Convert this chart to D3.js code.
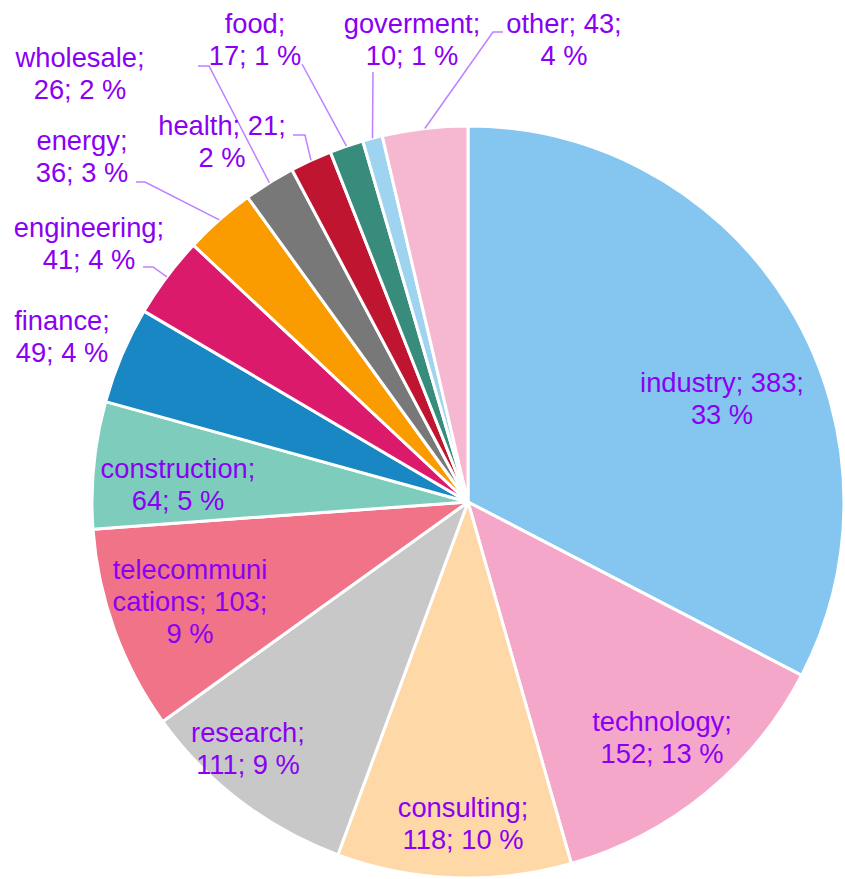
<!DOCTYPE html>
<html>
<head>
<meta charset="utf-8">
<script src="https://cdn.jsdelivr.net/npm/d3@7"></script>
<style>
  html, body { margin: 0; padding: 0; background: #fff; }
  svg { display: block; }
  .lbl { font-family: "Liberation Sans", Arial, sans-serif; font-size: 27.3px; fill: #8a00f2; }
</style>
</head>
<body>
<div id="chart"></div>
<script>
const width = 845;
const height = 879;

// data, clockwise from 12 o'clock
const categories = ["industry", "technology", "consulting", "research", "telecommunications",
  "construction", "finance", "engineering", "energy", "wholesale", "health", "food",
  "goverment", "other"];
const values = [383, 152, 118, 111, 103, 64, 49, 41, 36, 26, 21, 17, 10, 43];
// percentages as printed on the labels
const percents = [33, 13, 10, 9, 9, 5, 4, 4, 3, 2, 2, 1, 1, 4];
const colors = ["#84c6ef", "#f4a7c9", "#fed8a6", "#c8c8c8", "#f07387", "#7ecdbc", "#1a87c5",
  "#dc1a6c", "#fa9b00", "#787878", "#bf1530", "#378c7b", "#9fd4f1", "#f6b7d1"];

// label layout: x centre, first baseline, where the line breaks, optional leader (elbow, end)
const labelLayout = {
  industry:           { x: 722, y: 392, wrap: "value" },
  technology:         { x: 662, y: 731, wrap: "name" },
  consulting:         { x: 463, y: 817, wrap: "name" },
  research:           { x: 248, y: 742, wrap: "name" },
  telecommunications: { x: 190, y: 579, wrap: "split" },
  construction:       { x: 178, y: 478, wrap: "name" },
  finance:            { x: 62,  y: 330, wrap: "name" },
  engineering:        { x: 89,  y: 237, wrap: "name", elbow: [153, 267], end: [143, 267] },
  energy:             { x: 82,  y: 150, wrap: "name", elbow: [145, 182], end: [136, 182] },
  wholesale:          { x: 80,  y: 67,  wrap: "name", elbow: [209, 66],  end: [198, 66] },
  health:             { x: 222, y: 135, wrap: "value", elbow: [305, 135], end: [293, 135] },
  food:               { x: 255, y: 33,  wrap: "name", elbow: [302, 64],  end: [302, 64] },
  goverment:          { x: 412, y: 33,  wrap: "name", elbow: [373, 72],  end: [373, 72] },
  other:              { x: 564, y: 33,  wrap: "value", elbow: [493, 32], end: [503, 32] }
};

const cx = 468, cy = 502, radius = 376;
const lineHeight = 32;

const data = categories.map((c, i) => ({ name: c, value: values[i], pct: percents[i], color: colors[i] }));

const svg = d3.select("#chart")
  .append("svg")
  .attr("width", width)
  .attr("height", height);

const g = svg.append("g")
  .attr("transform", `translate(${cx}, ${cy})`);

const pie = d3.pie()
  .value(d => d.value)
  .sort(null);

const arc = d3.arc()
  .innerRadius(0)
  .outerRadius(radius);

const arcs = pie(data);

g.selectAll(".slice")
  .data(arcs)
  .join("path")
    .classed("slice", true)
    .attr("d", arc)
    .style("fill", d => d.data.color)
    .style("stroke", "#fff")
    .style("stroke-width", 3)
    .style("stroke-linejoin", "round");

// leader lines from the slice edge (mid angle) to the label
function edgePoint(d) {
  const a = (d.startAngle + d.endAngle) / 2;
  return [cx + radius * Math.sin(a), cy - radius * Math.cos(a)];
}

svg.selectAll(".leader")
  .data(arcs.filter(d => labelLayout[d.data.name].elbow))
  .join("polyline")
    .classed("leader", true)
    .attr("points", d => {
      const L = labelLayout[d.data.name];
      return [edgePoint(d), L.elbow, L.end].map(p => p.join(",")).join(" ");
    })
    .style("fill", "none")
    .style("stroke", "#bf80ff")
    .style("stroke-width", 1.5);

function labelLines(d) {
  const L = labelLayout[d.name];
  if (L.wrap === "value") return [`${d.name}; ${d.value};`, `${d.pct} %`];
  if (L.wrap === "split") return [d.name.slice(0, 11), `${d.name.slice(11)}; ${d.value};`, `${d.pct} %`];
  return [`${d.name};`, `${d.value}; ${d.pct} %`];
}

const labels = svg.selectAll(".lbl")
  .data(data)
  .join("text")
    .classed("lbl", true)
    .attr("text-anchor", "middle");

labels.selectAll("tspan")
  .data(d => labelLines(d).map((t, i) => ({ t, i, L: labelLayout[d.name] })))
  .join("tspan")
    .attr("x", d => d.L.x)
    .attr("y", d => d.L.y + d.i * lineHeight)
    .text(d => d.t);
</script>
</body>
</html>
